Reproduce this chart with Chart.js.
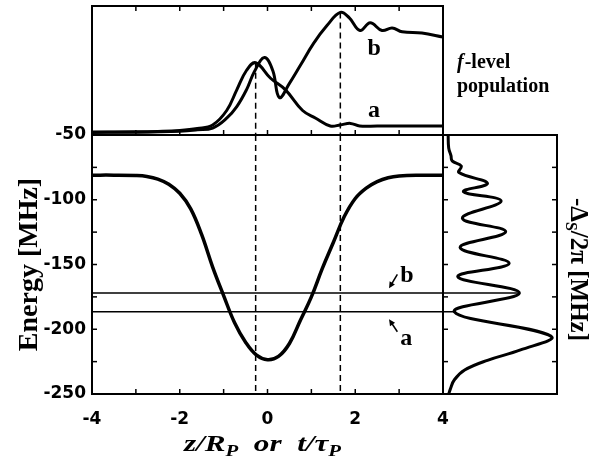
<!DOCTYPE html>
<html>
<head>
<meta charset="utf-8">
<style>
  body { margin: 0; background: #fff; }
  canvas { position: absolute; left: 0; top: 0; }
</style>
</head>
<body>
<canvas id="mainChart" width="598" height="462"></canvas>
<canvas id="topChart" width="598" height="462"></canvas>
<canvas id="sideChart" width="598" height="462"></canvas>

<script src="https://cdn.jsdelivr.net/npm/chart.js"></script>

<script>
    // axis ranges
    const zMin = -4, zMax = 4;
    const eMin = -250, eMax = -50;

    // main panel: energy vs z/R_P
    const zGrid  = [-4, -3.5, -3, -2.75, -2.5, -2.25, -2, -1.75, -1.5, -1.25, -1, -0.75, -0.5, -0.25, 0,
                    0.25, 0.5, 0.75, 1, 1.25, 1.5, 1.75, 2, 2.25, 2.5, 2.75, 3, 3.5, 4];
    const energy = [-81, -81, -81.3, -82, -84, -88, -95, -107, -127, -152, -174, -195, -210, -220, -223.5,
                    -221, -211, -193, -175, -153, -133, -113, -99, -91, -86, -83, -81.7, -81.1, -81];

    // the two levels a and b
    const levelNames = ['a', 'b'];
    const levelE = [-186.5, -172];

    // dashed marker positions
    const markerZ = [-0.27, 1.66];

    // top panel: f-level population (arb. units)
    const popAz = [-4, -3, -2.5, -2, -1.6, -1.25, -0.93, -0.7, -0.48, -0.27, 0.07, 0.41, 0.8, 1.1, 1.43, 1.66, 1.89, 2.1, 2.5, 3, 4];
    const popA  = [0.023, 0.025, 0.028, 0.035, 0.05, 0.078, 0.19, 0.35, 0.5, 0.56, 0.44, 0.35, 0.19, 0.13, 0.07, 0.078, 0.09, 0.07, 0.07, 0.07, 0.07];
    const popBz = [-4, -3, -2, -1.6, -1.25, -0.93, -0.7, -0.48, -0.3, -0.07, 0.12, 0.27, 0.5, 0.75, 1.05, 1.36, 1.66, 1.86, 2.11, 2.34, 2.61, 2.84, 3.07, 3.52, 4];
    const popB  = [0.02, 0.022, 0.03, 0.04, 0.054, 0.13, 0.22, 0.35, 0.49, 0.6, 0.5, 0.29, 0.4, 0.54, 0.71, 0.85, 0.95, 0.91, 0.81, 0.87, 0.81, 0.83, 0.8, 0.79, 0.76];

    // side panel: spectrum -Δs/2π (arb. units)
    const specE = [-50, -60, -66, -70, -74, -79, -87.3, -93.8, -101, -114.3, -124.7, -136.9, -149.1,
                   -159.4, -172, -186.5, -205.5, -216, -224, -231.5, -239, -246, -250];
    const specI = [0.045, 0.05, 0.07, 0.08, 0.16, 0.14, 0.39, 0.18, 0.51, 0.17, 0.55, 0.15, 0.58,
                   0.13, 0.67, 0.1, 0.95, 0.68, 0.39, 0.19, 0.1, 0.065, 0.05];

    const serif = '"Liberation Serif", "Times New Roman", serif';
    const sans = '"DejaVu Sans", sans-serif';

    function pts(xs, ys) {
        return xs.map((x, i) => ({x: x, y: ys[i]}));
    }

    function line(ctx, x1, y1, x2, y2) {
        ctx.beginPath();
        ctx.moveTo(x1, y1);
        ctx.lineTo(x2, y2);
        ctx.stroke();
    }

    // draws pieces of text one after another, centred on cx
    function drawRun(ctx, pieces, cx, baseY) {
        let w = 0;
        pieces.forEach(p => { ctx.font = p.font; p.w = ctx.measureText(p.text).width; w += p.w; });
        let x = cx - w / 2;
        pieces.forEach(p => {
            ctx.font = p.font;
            ctx.fillText(p.text, x, baseY + (p.dy || 0));
            x += p.w;
        });
    }

    // box around the plot area and inward tick marks
    const framePlugin = {
        id: 'frame',
        afterDraw(chart, args, o) {
            const {ctx, chartArea: a, scales} = chart;
            const len = 5;
            ctx.save();
            ctx.strokeStyle = '#000';
            ctx.lineWidth = 1.5;
            (o.x || []).forEach(side => {
                scales.x.ticks.forEach(t => {
                    const px = scales.x.getPixelForValue(t.value);
                    if (side === 'bottom') line(ctx, px, a.bottom, px, a.bottom - len);
                    else line(ctx, px, a.top, px, a.top + len);
                });
            });
            (o.y || []).forEach(side => {
                scales.y.ticks.forEach(t => {
                    const py = scales.y.getPixelForValue(t.value);
                    if (side === 'left') line(ctx, a.left, py, a.left + len, py);
                    else line(ctx, a.right, py, a.right - len, py);
                });
            });
            ctx.lineWidth = 2;
            ctx.strokeRect(a.left, a.top, a.right - a.left, a.bottom - a.top);
            ctx.restore();
        }
    };

    // letters and arrows placed in data coordinates
    const notesPlugin = {
        id: 'notes',
        afterDraw(chart, args, o) {
            const {ctx, scales} = chart;
            ctx.save();
            ctx.fillStyle = '#000';
            ctx.strokeStyle = '#000';
            ctx.textAlign = 'center';
            ctx.textBaseline = 'alphabetic';
            ctx.font = 'bold 24px ' + serif;
            (o.labels || []).forEach(l => {
                ctx.fillText(l.text, scales.x.getPixelForValue(l.x), scales.y.getPixelForValue(l.y));
            });
            ctx.lineWidth = 1.5;
            (o.arrows || []).forEach(ar => {
                const x1 = scales.x.getPixelForValue(ar.from[0]), y1 = scales.y.getPixelForValue(ar.from[1]);
                const x2 = scales.x.getPixelForValue(ar.to[0]), y2 = scales.y.getPixelForValue(ar.to[1]);
                const ang = Math.atan2(y2 - y1, x2 - x1);
                line(ctx, x1, y1, x2 - 3 * Math.cos(ang), y2 - 3 * Math.sin(ang));
                ctx.beginPath();
                ctx.moveTo(x2, y2);
                ctx.lineTo(x2 - 7 * Math.cos(ang - 0.45), y2 - 7 * Math.sin(ang - 0.45));
                ctx.lineTo(x2 - 7 * Math.cos(ang + 0.45), y2 - 7 * Math.sin(ang + 0.45));
                ctx.closePath();
                ctx.fill();
            });
            ctx.restore();
        }
    };

    const xTitlePlugin = {
        id: 'xtitle',
        afterDraw(chart) {
            const {ctx, chartArea: a} = chart;
            const big = 'italic bold 24px ' + serif, small = 'italic bold 16px ' + serif;
            ctx.save();
            ctx.fillStyle = '#000';
            ctx.textAlign = 'left';
            ctx.textBaseline = 'alphabetic';
            ctx.translate((a.left + a.right) / 2 - 5, 451);
            ctx.scale(1.3, 1);
            drawRun(ctx, [
                {text: 'z/R', font: big},
                {text: 'P', font: small, dy: 5},
                {text: '  or  ', font: big},
                {text: 't/τ', font: big},
                {text: 'P', font: small, dy: 5}
            ], 0, 0);
            ctx.restore();
        }
    };

    const sideTitlePlugin = {
        id: 'sidetitle',
        afterDraw(chart) {
            const {ctx, chartArea: a} = chart;
            const big = 'bold 25px ' + serif, small = 'bold 16px ' + serif;
            ctx.save();
            ctx.fillStyle = '#000';
            ctx.textAlign = 'left';
            ctx.textBaseline = 'alphabetic';
            ctx.translate(a.right + 14, (a.top + a.bottom) / 2 + 5);
            ctx.rotate(Math.PI / 2);
            drawRun(ctx, [
                {text: '-Δ', font: big},
                {text: 'S', font: small, dy: 5},
                {text: '/2π [MHz]', font: big}
            ], 0, 0);
            ctx.restore();
        }
    };

    const popLabelPlugin = {
        id: 'poplabel',
        afterDraw(chart) {
            const {ctx, chartArea: a} = chart;
            ctx.save();
            ctx.fillStyle = '#000';
            ctx.textAlign = 'left';
            ctx.textBaseline = 'alphabetic';
            const x = a.right + 14;
            ctx.font = 'italic bold 20px ' + serif;
            ctx.fillText('f', x, 68);
            const fw = ctx.measureText('f').width;
            ctx.font = 'bold 20px ' + serif;
            ctx.fillText('-level', x + fw + 1, 68);
            ctx.fillText('population', x, 92);
            ctx.restore();
        }
    };

    Chart.defaults.animation = false;
    Chart.defaults.color = '#000';

    const curve = (data, width) => ({
        data: data, borderColor: '#000', borderWidth: width, pointRadius: 0,
        showLine: true, tension: 0.4, fill: false
    });
    const dashed = data => ({
        data: data, borderColor: '#000', borderWidth: 1.5, pointRadius: 0,
        showLine: true, borderDash: [6, 4], fill: false
    });

    const noLegend = {legend: {display: false}, tooltip: {enabled: false}};

    // ---- main panel ----
    const mainSets = [curve(pts(zGrid, energy), 3.5)];
    levelE.forEach(e => mainSets.push(curve([{x: zMin, y: e}, {x: zMax, y: e}], 1.5)));
    markerZ.forEach(z => mainSets.push(dashed([{x: z, y: eMax}, {x: z, y: eMin}])));

    new Chart(document.getElementById('mainChart'), {
        type: 'scatter',
        data: {datasets: mainSets},
        plugins: [framePlugin, notesPlugin, xTitlePlugin],
        options: {
            responsive: false,
            layout: {padding: {left: 0, right: 155, top: 135, bottom: 0}},
            plugins: Object.assign({
                frame: {x: ['bottom'], y: ['left']},
                notes: {
                    labels: [
                        {text: levelNames[1], x: 3.18, y: -163.5},
                        {text: levelNames[0], x: 3.16, y: -212.2}
                    ],
                    arrows: [
                        {from: [2.96, -157.6], to: [2.77, -168.4]},
                        {from: [2.96, -201.9], to: [2.77, -192.3]}
                    ]
                }
            }, noLegend),
            scales: {
                x: {
                    type: 'linear', min: zMin, max: zMax,
                    grid: {display: false, drawTicks: false},
                    border: {display: false},
                    ticks: {
                        stepSize: 1, autoSkip: false, maxRotation: 0, padding: 15,
                        font: {family: sans, size: 17, weight: 'bold'},
                        callback: v => (v % 2 === 0 ? String(v) : '')
                    },
                    afterFit: s => { s.height = 68; }
                },
                y: {
                    type: 'linear', min: eMin, max: eMax,
                    grid: {display: false, drawTicks: false},
                    border: {display: false},
                    ticks: {
                        stepSize: 25, autoSkip: false, padding: 6,
                        font: {family: sans, size: 17, weight: 'bold'},
                        callback: v => (v % 50 === 0 ? String(v) : '')
                    },
                    title: {
                        display: true, text: 'Energy [MHz]', padding: {top: 13, bottom: 0},
                        font: {family: serif, size: 28, weight: 'bold'}
                    },
                    afterFit: s => { s.width = 92; }
                }
            }
        }
    });

    // ---- top panel ----
    const markerTop = [popA[popAz.indexOf(markerZ[0])], popB[popBz.indexOf(markerZ[1])]];
    const topSets = [curve(pts(popAz, popA), 3), curve(pts(popBz, popB), 3)];
    markerZ.forEach((z, i) => topSets.push(dashed([{x: z, y: markerTop[i]}, {x: z, y: 0}])));

    new Chart(document.getElementById('topChart'), {
        type: 'scatter',
        data: {datasets: topSets},
        plugins: [framePlugin, notesPlugin, popLabelPlugin],
        options: {
            responsive: false,
            layout: {padding: {left: 92, right: 155, top: 6, bottom: 327}},
            plugins: Object.assign({
                frame: {x: ['bottom', 'top']},
                notes: {
                    labels: [
                        {text: 'b', x: 2.43, y: 0.62},
                        {text: 'a', x: 2.43, y: 0.14}
                    ]
                }
            }, noLegend),
            scales: {
                x: {
                    type: 'linear', min: zMin, max: zMax,
                    grid: {display: false, drawTicks: false},
                    border: {display: false},
                    ticks: {display: false, stepSize: 1},
                    afterFit: s => { s.height = 0; }
                },
                y: {
                    type: 'linear', min: 0, max: 1,
                    grid: {display: false, drawTicks: false},
                    border: {display: false},
                    ticks: {display: false},
                    afterFit: s => { s.width = 0; }
                }
            }
        }
    });

    // ---- side panel ----
    const sideSets = [curve(pts(specI, specE), 3)];
    levelE.forEach(e => sideSets.push(curve([{x: 0, y: e}, {x: specI[specE.indexOf(e)], y: e}], 1.5)));

    new Chart(document.getElementById('sideChart'), {
        type: 'scatter',
        data: {datasets: sideSets},
        plugins: [framePlugin, sideTitlePlugin],
        options: {
            responsive: false,
            layout: {padding: {left: 443, right: 41, top: 135, bottom: 68}},
            plugins: Object.assign({frame: {y: ['left', 'right']}}, noLegend),
            scales: {
                x: {
                    type: 'linear', min: 0, max: 1,
                    grid: {display: false, drawTicks: false},
                    border: {display: false},
                    ticks: {display: false},
                    afterFit: s => { s.height = 0; }
                },
                y: {
                    type: 'linear', min: eMin, max: eMax,
                    grid: {display: false, drawTicks: false},
                    border: {display: false},
                    ticks: {display: false, stepSize: 25},
                    afterFit: s => { s.width = 0; }
                }
            }
        }
    });
</script>
</body>
</html>
